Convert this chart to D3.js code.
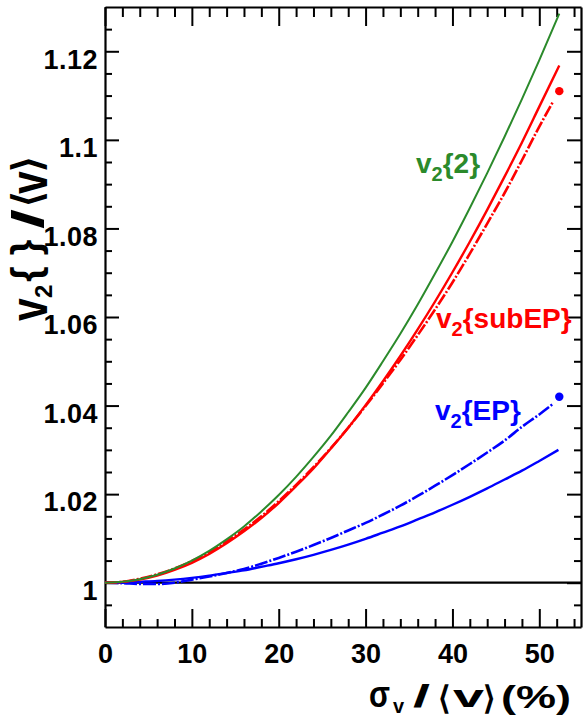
<!DOCTYPE html>
<html>
<head>
<meta charset="utf-8">
<script src="https://cdn.jsdelivr.net/npm/d3@7"></script>
<style>
  html, body { margin: 0; padding: 0; background: #fff; }
  svg { display: block; }
  text { font-family: "Liberation Sans", Arial, Helvetica, sans-serif; font-weight: bold; }
</style>
</head>
<body>
<svg id="chart" width="584" height="717"></svg>
<script>
// ---------- data ----------
const sigmaX = [0,2,4,6,8,10,12,14,16,18,20,22,24,26,28,30,32,34,36,38,40,42,44,46,48,50,52.3];
const v2_2 = [1,1.0002,1.0008,1.0018,1.0032,1.0050,1.0072,1.0098,1.0127,1.0161,1.0198,1.0239,1.0284,1.0332,1.0385,1.0440,1.0500,1.0562,1.0628,1.0698,1.0770,1.0846,1.0925,1.1007,1.1092,1.1180,1.1285];
const v2_subEP = [1,1.0002,1.0007,1.0016,1.0029,1.0045,1.0065,1.0089,1.0116,1.0146,1.0180,1.0218,1.0258,1.0303,1.0350,1.0401,1.0455,1.0512,1.0572,1.0635,1.0701,1.0770,1.0842,1.0917,1.0994,1.1075,1.1168];

const sigmaXdash = [0,2,4,6,8,10,12,14,16,18,20,22,24,26,28,30,32,34,36,38,40,42,44,46,48,50,51.6];
const v2_subEP_dash = [1,1.0002,1.0009,1.0019,1.0032,1.0049,1.0069,1.0093,1.0120,1.0150,1.0184,1.0221,1.0261,1.0304,1.0350,1.0399,1.0450,1.0503,1.0559,1.0617,1.0678,1.0743,1.0811,1.0880,1.0954,1.1030,1.1087];
const v2_EP_dash = [1,0.9999,0.9997,0.9997,1.0000,1.0007,1.0014,1.0022,1.0031,1.0043,1.0056,1.0070,1.0085,1.0101,1.0118,1.0135,1.0154,1.0174,1.0196,1.0219,1.0243,1.0268,1.0294,1.0321,1.0352,1.0380,1.0404];

const sigmaXep = [0,2,4,6,8,10,12,14,16,18,20,22,24,26,28,30,32,34,36,38,40,42,44,46,48,50,52.2];
const v2_EP = [1,1.0000,1.0002,1.0004,1.0007,1.0011,1.0016,1.0022,1.0028,1.0036,1.0044,1.0053,1.0063,1.0074,1.0086,1.0099,1.0113,1.0127,1.0143,1.0159,1.0176,1.0194,1.0213,1.0233,1.0253,1.0275,1.0300];

const dotPoints = [ {x: 52.3, y: 1.1110, series: "subEP"}, {x: 52.3, y: 1.0420, series: "EP"} ];

const xMajor = [0,10,20,30,40,50];
const xMinor = [2,4,6,8,12,14,16,18,22,24,26,28,32,34,36,38,42,44,46,48,52,54];
const yMajor = [1,1.02,1.04,1.06,1.08,1.1,1.12];
const yMajorLabels = ["1","1.02","1.04","1.06","1.08","1.1","1.12"];
const yMinor = [0.995,1.005,1.01,1.015,1.025,1.03,1.035,1.045,1.05,1.055,1.065,1.07,1.075,1.085,1.09,1.095,1.105,1.11,1.115,1.125];

const colGreen = "#2b8a2b", colRed = "#ff0000", colBlue = "#0000ff";

// ---------- scales ----------
const L = 105, R = 581, T = 7, B = 627;
const x = d3.scaleLinear().domain([0, 54.8]).range([L, R]);
const y = d3.scaleLinear().domain([0.99, 1.13]).range([B, T]);

const svg = d3.select("#chart");

// ---------- axes ----------
function styleAxis(g) {
  g.selectAll("path.domain").attr("stroke", "#000").attr("stroke-width", 2.2);
  g.selectAll(".tick line").attr("stroke", "#000").attr("stroke-width", 2);
}

// left
const gL = svg.append("g").attr("transform", `translate(${L},0)`)
  .call(d3.axisLeft(y).tickValues(yMajor).tickSize(-14).tickSizeOuter(0).tickPadding(7)
        .tickFormat((d, i) => yMajorLabels[i]));
gL.call(styleAxis);
gL.selectAll(".tick text").attr("font-size", 27).attr("fill", "#000")
  .attr("font-family", "Liberation Sans, Arial, sans-serif").attr("font-weight", "bold")
  .attr("letter-spacing", "0.5px")
  .attr("dy", "0.62em");
svg.append("g").attr("transform", `translate(${L},0)`)
  .call(d3.axisLeft(y).tickValues(yMinor).tickSize(-7).tickSizeOuter(0).tickFormat(""))
  .call(styleAxis).select("path.domain").remove();

// right
svg.append("g").attr("transform", `translate(${R},0)`)
  .call(d3.axisRight(y).tickValues(yMajor).tickSize(-14).tickSizeOuter(0).tickFormat(""))
  .call(styleAxis);
svg.append("g").attr("transform", `translate(${R},0)`)
  .call(d3.axisRight(y).tickValues(yMinor).tickSize(-7).tickSizeOuter(0).tickFormat(""))
  .call(styleAxis).select("path.domain").remove();

// bottom
const gB = svg.append("g").attr("transform", `translate(0,${B})`)
  .call(d3.axisBottom(x).tickValues(xMajor).tickSize(-18).tickSizeOuter(0).tickPadding(10));
gB.call(styleAxis);
gB.selectAll(".tick text").attr("font-size", 27).attr("fill", "#000")
  .attr("font-family", "Liberation Sans, Arial, sans-serif").attr("font-weight", "bold")
  .attr("y", 36).attr("dy", 0);
svg.append("g").attr("transform", `translate(0,${B})`)
  .call(d3.axisBottom(x).tickValues(xMinor).tickSize(-8).tickSizeOuter(0).tickFormat(""))
  .call(styleAxis).select("path.domain").remove();

// top
svg.append("g").attr("transform", `translate(0,${T})`)
  .call(d3.axisTop(x).tickValues(xMajor).tickSize(-19).tickSizeOuter(0).tickFormat(""))
  .call(styleAxis);
svg.append("g").attr("transform", `translate(0,${T})`)
  .call(d3.axisTop(x).tickValues(xMinor).tickSize(-10).tickSizeOuter(0).tickFormat(""))
  .call(styleAxis).select("path.domain").remove();

// ---------- reference line at 1 ----------
svg.append("line")
  .attr("x1", x(0)).attr("x2", x(54.8)).attr("y1", y(1)).attr("y2", y(1))
  .attr("stroke", "#000").attr("stroke-width", 2.2);

// ---------- curves ----------
function drawCurve(xs, ys, color, dash, width) {
  const pts = xs.map((v, i) => [v, ys[i]]);
  const line = d3.line().x(d => x(d[0])).y(d => y(d[1])).curve(d3.curveMonotoneX);
  svg.append("path").datum(pts).attr("d", line)
    .attr("fill", "none").attr("stroke", color).attr("stroke-width", width)
    .attr("stroke-dasharray", dash || null);
}
drawCurve(sigmaXep, v2_EP, colBlue, null, 2.4);
drawCurve(sigmaXdash, v2_EP_dash, colBlue, "13,2,2,2", 2.6);
drawCurve(sigmaXdash, v2_subEP_dash, colRed, "12,2,2,2", 2.6);
drawCurve(sigmaX, v2_subEP, colRed, null, 2.4);
drawCurve(sigmaX, v2_2, colGreen, null, 2);

// dots
svg.selectAll("circle.pt").data(dotPoints).enter().append("circle")
  .attr("class", "pt")
  .attr("cx", d => x(d.x)).attr("cy", d => y(d.y)).attr("r", 4.2)
  .attr("fill", d => d.series === "EP" ? colBlue : colRed);

// ---------- curve labels ----------
function curveLabel(px, py, sub, rest, color) {
  const t = svg.append("text").attr("x", px).attr("y", py).attr("fill", color).attr("font-size", 28);
  t.append("tspan").text("v");
  t.append("tspan").attr("font-size", 20).attr("dy", 8).text(sub);
  t.append("tspan").attr("dy", -8).text(rest);
}
curveLabel(416, 173, "2", "{2}", colGreen);
curveLabel(436, 328, "2", "{subEP}", colRed);
curveLabel(435, 420, "2", "{EP}", colBlue);

// ---------- x axis title (pieces placed to match the reference) ----------
const xTitle = svg.append("g").attr("class", "x-title").attr("fill", "#000");
function xPiece(txt, px, py, size, opts = {}) {
  const t = xTitle.append("text").attr("x", px).attr("y", py).attr("font-size", size)
    .attr("text-anchor", opts.anchor || "start").text(txt);
  if (opts.family) t.attr("font-family", opts.family);
  if (opts.normal) t.attr("font-weight", "normal");
  if (opts.len) t.attr("textLength", opts.len).attr("lengthAdjust", "spacingAndGlyphs");
  return t;
}
xPiece("σ", 369, 707, 36, {family: "Liberation Serif, DejaVu Serif, serif", normal: true, len: 21});
xPiece("v", 393, 713, 20);
xPiece("/", 413, 707, 32, {len: 17});
xPiece("⟨", 444, 709, 32, {family: "DejaVu Sans, sans-serif", normal: true, anchor: "middle"});
xPiece("v", 453, 707, 32, {len: 31});
xPiece("⟩", 489, 709, 32, {family: "DejaVu Sans, sans-serif", normal: true, anchor: "middle"});
xPiece("(%)", 501, 708, 32, {len: 70});

// ---------- y axis title (rotated, pieces placed to match the reference) ----------
const yTitle = svg.append("g").attr("class", "y-title").attr("fill", "#000");
function yPiece(txt, yPos, baseX, size, opts = {}) {
  const sh = opts.stretch || 1;
  const t = yTitle.append("text")
    .attr("transform", `translate(${baseX},${yPos}) rotate(-90) scale(1,${sh})`)
    .attr("font-size", size).attr("text-anchor", opts.anchor || "start").text(txt);
  if (opts.family) t.attr("font-family", opts.family);
  if (opts.normal) t.attr("font-weight", "normal");
  if (opts.len) t.attr("textLength", opts.len).attr("lengthAdjust", "spacingAndGlyphs");
  return t;
}
yPiece("v", 321, 47, 41, {stretch: 1.25});
yPiece("2", 298, 52, 24);
yPiece("{ }", 282, 40, 40);
yPiece("/", 229, 43, 44, {len: 20});
yPiece("⟨", 199, 41, 40, {family: "DejaVu Sans, sans-serif", normal: true, anchor: "middle"});
yPiece("v", 194, 47, 41, {stretch: 1.25});
yPiece("⟩", 163.5, 41, 40, {family: "DejaVu Sans, sans-serif", normal: true, anchor: "middle"});
</script>
</body>
</html>
